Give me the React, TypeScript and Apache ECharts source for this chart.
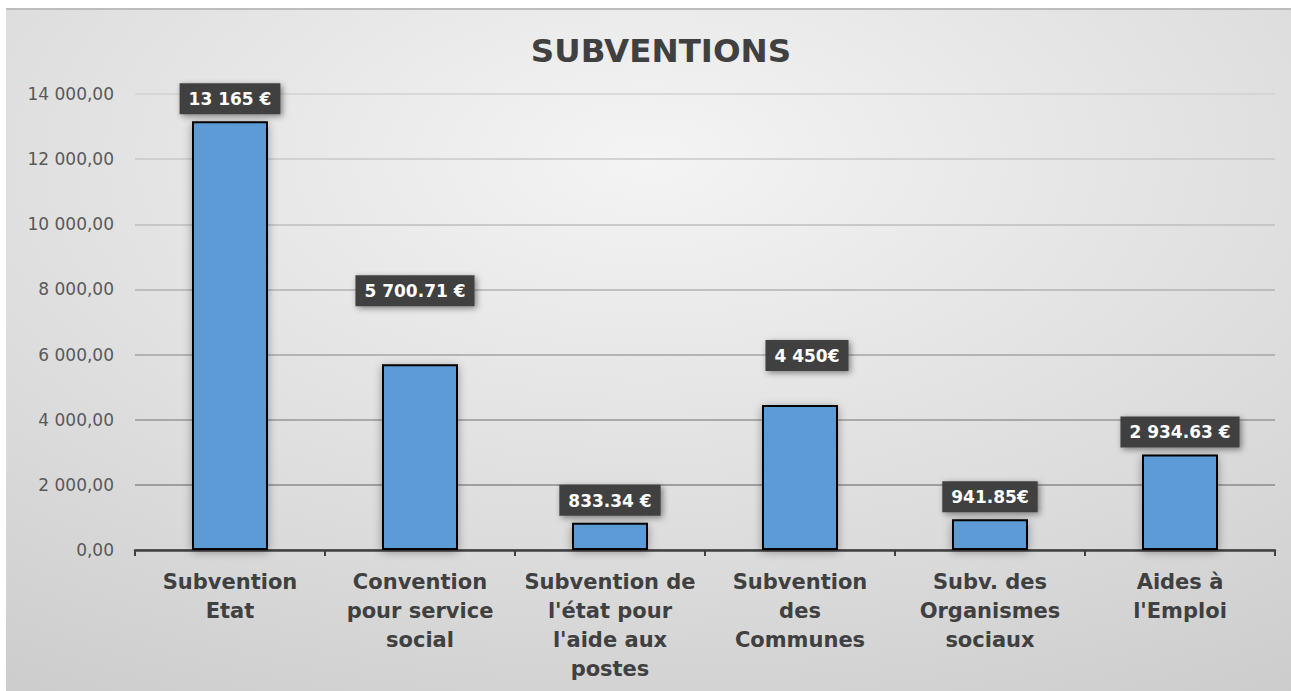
import React, { useEffect, useRef } from "react";
import * as echarts from "echarts";

const TITLE = "SUBVENTIONS";
const categories = [
  "Subvention\nEtat",
  "Convention\npour service\nsocial",
  "Subvention de\nl'état pour\nl'aide aux\npostes",
  "Subvention\ndes\nCommunes",
  "Subv. des\nOrganismes\nsociaux",
  "Aides à\nl'Emploi",
];
const values = [13165, 5700.71, 833.34, 4450, 941.85, 2934.63];
const labelTexts = ["13 165 €", "5 700.71 €", "833.34 €", "4 450€", "941.85€", "2 934.63 €"];
const yMin = 0;
const yMax = 14000;
const yStep = 2000;

const FONT = "'DejaVu Sans', sans-serif";

function fmtTick(v: number): string {
  const s = Math.round(v).toString().replace(/\B(?=(\d{3})+(?!\d))/g, " ");
  return s + ",00";
}

export default function App() {
  const ref = useRef<HTMLDivElement>(null);
  useEffect(() => {
    if (!ref.current) return;
    const chart = echarts.init(ref.current, undefined, { renderer: "svg" });
    const labelShift: Record<number, number[]> = { 1: [-5, -51], 3: [7, -27] };
    chart.setOption({
      animation: false,
      backgroundColor: {
        type: "radial",
        x: 0.5,
        y: 0.22,
        r: 1.05,
        colorStops: [
          { offset: 0, color: "#f4f4f4" },
          { offset: 0.55, color: "#dcdcdc" },
          { offset: 1, color: "#c7c7c7" },
        ],
      },
      title: {
        text: TITLE,
        left: 650,
        top: 21,
        textAlign: "center",
        textStyle: { fontFamily: FONT, fontWeight: "bold", fontSize: 32.5, color: "#404040" },
      },
      graphic: [
        { type: "rect", left: 0, top: 0, shape: { width: 1285, height: 2 }, style: { fill: "#bdbdbd" }, silent: true },
      ],
      grid: { left: 129, right: 16, top: 86, bottom: 141 },
      xAxis: {
        type: "category",
        data: categories,
        axisLine: { show: true, lineStyle: { color: "#404040", width: 2.5 } },
        axisTick: { show: true, length: 6, lineStyle: { color: "#404040", width: 2 } },
        axisLabel: {
          interval: 0,
          margin: 17,
          fontFamily: FONT,
          fontWeight: "bold",
          fontSize: 21,
          lineHeight: 29,
          color: "#404040",
        },
      },
      yAxis: {
        type: "value",
        min: yMin,
        max: yMax,
        interval: yStep,
        axisLine: { show: false },
        axisTick: { show: false },
        axisLabel: {
          margin: 21,
          fontFamily: FONT,
          fontSize: 17,
          color: "#595959",
          formatter: (v: number) => fmtTick(v),
        },
        splitLine: {
          lineStyle: {
            width: 1.5,
            color: ["#808080", "#8a8a8a", "#979797", "#a5a5a5", "#b2b2b2", "#bebebe", "#c8c8c8", "#d2d2d2"],
          },
        },
      },
      series: [
        {
          type: "bar",
          barWidth: "40%",
          data: values.map((v, i) => ({
            value: v,
            label: {
              formatter: labelTexts[i],
              offset: labelShift[i] || [0, 0],
            },
          })),
          itemStyle: {
            color: "#5b9bd5",
            borderColor: "#000000",
            borderWidth: 2,
            shadowColor: "rgba(0,0,0,0.35)",
            shadowBlur: 10,
            shadowOffsetX: 0,
            shadowOffsetY: 2,
          },
          label: {
            show: true,
            position: "top",
            distance: 7,
            fontFamily: FONT,
            fontWeight: "bold",
            fontSize: 17,
            lineHeight: 18,
            color: "#ffffff",
            backgroundColor: "#404040",
            padding: [7, 9, 6, 9],
            shadowColor: "rgba(0,0,0,0.45)",
            shadowBlur: 6,
            shadowOffsetX: 2,
            shadowOffsetY: 2,
          },
        },
      ],
    });
    return () => chart.dispose();
  }, []);
  return (
    <div
      ref={ref}
      style={{ position: "absolute", left: 6, top: 8, width: 1285, height: 683 }}
    />
  );
}
